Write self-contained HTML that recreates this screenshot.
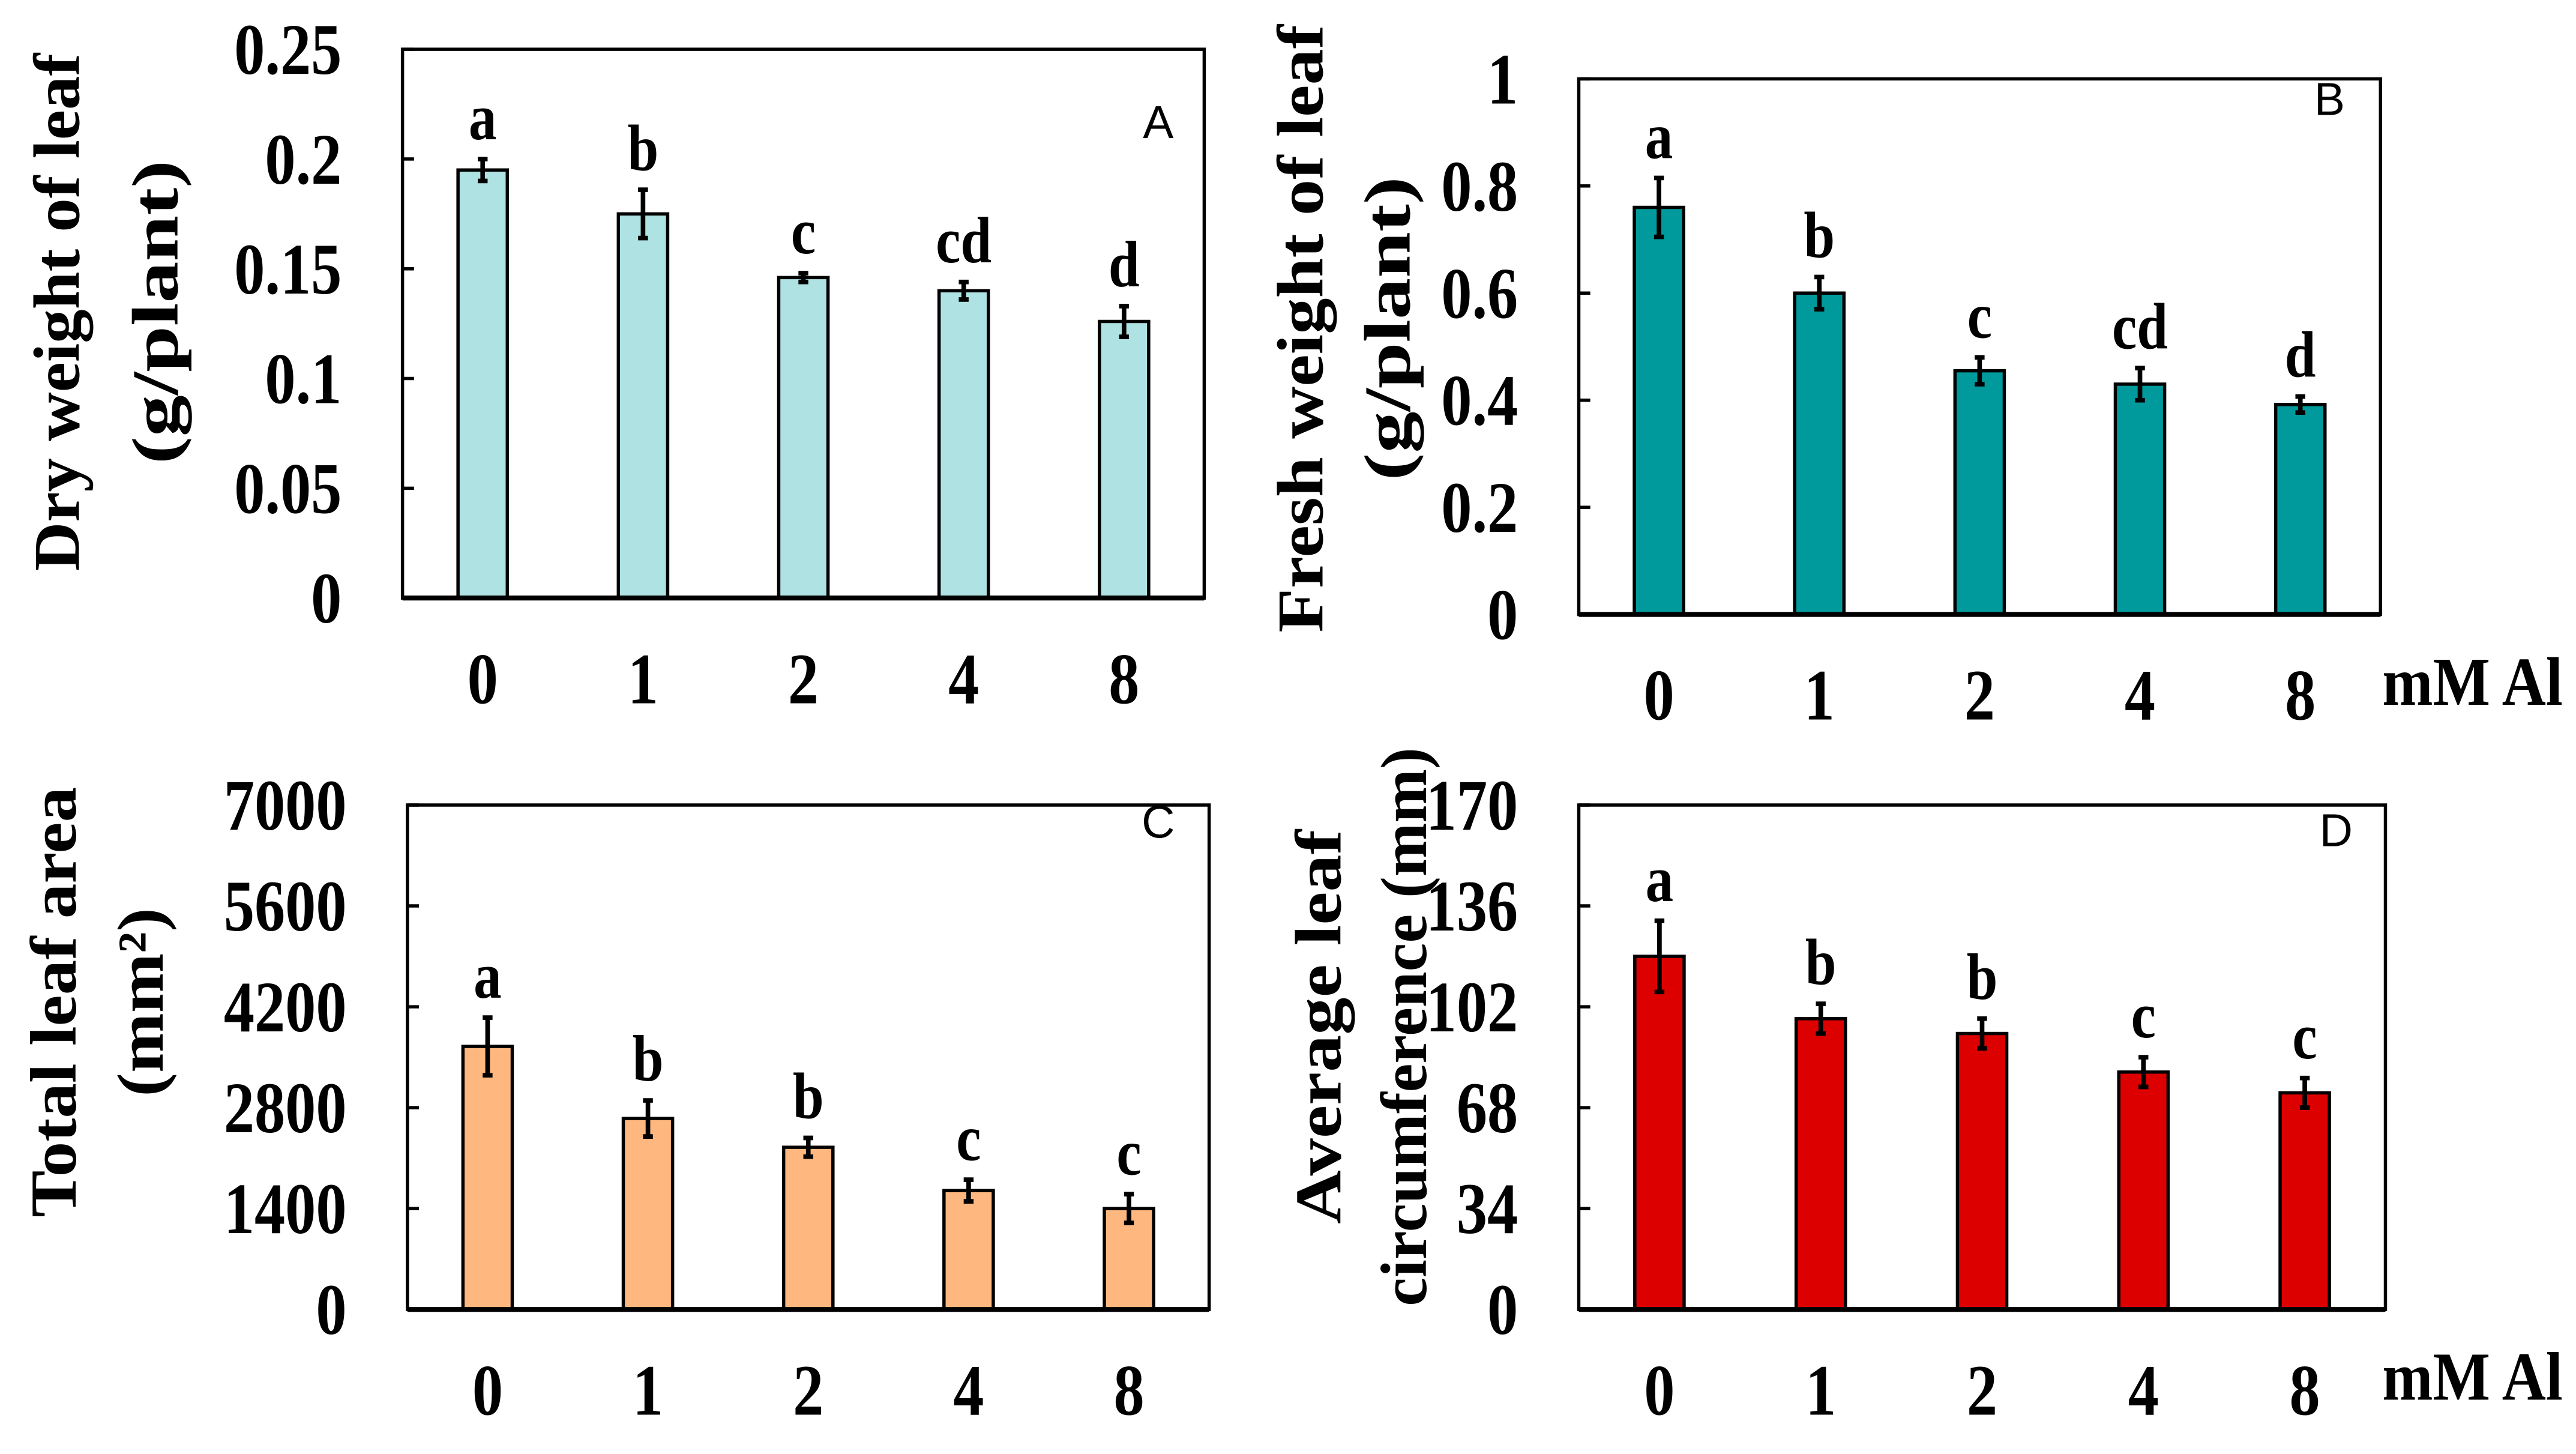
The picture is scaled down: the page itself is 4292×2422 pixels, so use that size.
<!DOCTYPE html>
<html><head><meta charset="utf-8">
<style>
html,body{margin:0;padding:0;background:#fff;}
svg{display:block;}
text{font-family:"Liberation Serif",serif;font-weight:bold;fill:#000;}
</style></head>
<body>
<svg id="fig" width="4292" height="2422" viewBox="0 0 1568 885" preserveAspectRatio="none" xmlns="http://www.w3.org/2000/svg"></svg>
<script>
const categories = ["0","1","2","4","8"];
const valuesA = [0.195,0.175,0.146,0.140,0.126];
const errorsA = [0.005,0.011,0.002,0.004,0.007];
const lettersA = ["a","b","c","cd","d"];
const ticksA = ["0","0.05","0.1","0.15","0.2","0.25"];
const valuesB = [0.76,0.60,0.455,0.43,0.392];
const errorsB = [0.055,0.03,0.025,0.03,0.015];
const lettersB = ["a","b","c","cd","d"];
const ticksB = ["0","0.2","0.4","0.6","0.8","1"];
const valuesC = [3650,2650,2250,1650,1400];
const errorsC = [400,250,130,150,200];
const lettersC = ["a","b","b","c","c"];
const ticksC = ["0","1400","2800","4200","5600","7000"];
const valuesD = [119,98,93,80,73];
const errorsD = [12,5,5,5,5];
const lettersD = ["a","b","b","c","c"];
const ticksD = ["0","34","68","102","136","170"];

const NS="http://www.w3.org/2000/svg";
const svg=document.getElementById('fig');
function mk(tag,attrs,parent){const e=document.createElementNS(NS,tag);for(const k in attrs)e.setAttribute(k,attrs[k]);(parent||svg).appendChild(e);return e;}

const panels=[
 {id:"a",x0:245,x1:733,y0:30,y1:364,max:0.25,vals:valuesA,errs:errorsA,lets:lettersA,ticks:ticksA,color:"#aee2e3",tag:"A",tagX:705,tagY:84,
  titles:[["Dry weight of leaf",35],["(g/plant)",95]],titleY:190,titleLen:[315,185],mm:false},
 {id:"b",x0:961,x1:1449,y0:48,y1:374,max:1,vals:valuesB,errs:errorsB,lets:lettersB,ticks:ticksB,color:"#009a9c",tag:"B",tagX:1418,tagY:70,
  titles:[["Fresh weight of leaf",792],["(g/plant)",845]],titleY:200,titleLen:[370,185],mm:true,mmY:413},
 {id:"c",x0:248,x1:736,y0:490,y1:797,max:7000,vals:valuesC,errs:errorsC,lets:lettersC,ticks:ticksC,color:"#fdb77f",tag:"C",tagX:705,tagY:510,
  titles:[["Total leaf area",33],["(mm²)",86]],titleY:610,titleLen:[262,115],mm:false},
 {id:"d",x0:961,x1:1452,y0:490,y1:797,max:170,vals:valuesD,errs:errorsD,lets:lettersD,ticks:ticksD,color:"#dd0000",tag:"D",tagX:1422,tagY:515,
  titles:[["Average leaf",803],["circumference (mm)",855]],titleY:625,titleLen:[240,340],mm:true,mmY:836}
];

panels.forEach(p=>{
  const g=mk('g',{});
  
  
  const w=p.x1-p.x0, n=categories.length, step=w/n;
  const xc=i=>p.x0+step*(i+0.5);
  const yv=v=>p.y1-(v/p.max)*(p.y1-p.y0);
  const bw=30;
  p.vals.forEach((v,i)=>{
    const r=mk('rect',{x:xc(i)-bw/2,y:yv(v),width:bw,height:p.y1-yv(v),fill:p.color,stroke:"#000","stroke-width":2},g);
    
    
    const e=p.errs[i];
    const eb=mk('path',{d:`M${xc(i)} ${yv(v+e)}V${yv(v-e)}M${xc(i)-3} ${yv(v+e)}H${xc(i)+3}M${xc(i)-3} ${yv(v-e)}H${xc(i)+3}`,stroke:"#000","stroke-width":2.8,fill:"none"},g);
    
    
    const lt=mk('text',{x:xc(i),y:yv(v+e)-12,"text-anchor":"middle","font-size":40,transform:`translate(${xc(i)} 0) scale(0.85 1) translate(${-xc(i)} 0)`},g);
    lt.textContent=p.lets[i];
    
    
    const xl=mk('text',{x:xc(i),y:p.y1+64,"text-anchor":"middle","font-size":44,transform:`translate(${xc(i)} 0) scale(0.85 1) translate(${-xc(i)} 0)`},g);
    xl.textContent=categories[i];
    
    
  });
  const fr=mk('rect',{x:p.x0,y:p.y0,width:w,height:p.y1-p.y0,fill:"none",stroke:"#000","stroke-width":2},g);
  
  
  mk('line',{x1:p.x0,x2:p.x1,y1:p.y1,y2:p.y1,stroke:"#000","stroke-width":3},g);
  const lx=p.x0-37;
  p.ticks.forEach((t,k)=>{
    const v=p.max*k/(p.ticks.length-1), y=yv(v);
    mk('line',{x1:p.x0,x2:p.x0+7,y1:y,y2:y,stroke:"#000","stroke-width":2},g);
    const tl=mk('text',{x:lx,y:y+15,"text-anchor":"end","font-size":44,transform:`translate(${lx} 0) scale(0.85 1) translate(${-lx} 0)`},g);
    tl.textContent=t;
    
    
  });
  const tg=mk('text',{x:p.tagX,y:p.tagY,"text-anchor":"middle","font-size":28,style:"font-family:'Liberation Sans',sans-serif;font-weight:normal"},g);
  tg.textContent=p.tag;
  
  
  p.titles.forEach((tt,k)=>{
    const t=mk('text',{x:0,y:0,"text-anchor":"middle","font-size":40,textLength:p.titleLen[k],lengthAdjust:"spacingAndGlyphs",transform:`translate(${tt[1]+13},${p.titleY}) rotate(-90)`},g);
    t.textContent=tt[0];
    
    
  });
  if(p.mm){
    const m=mk('text',{x:1505,y:p.mmY+16,"text-anchor":"middle","font-size":42,transform:`translate(1505 0) scale(0.88 1) translate(-1505 0)`},g);
    m.textContent="mM Al";
    
    
  }
});
</script>
</body></html>
